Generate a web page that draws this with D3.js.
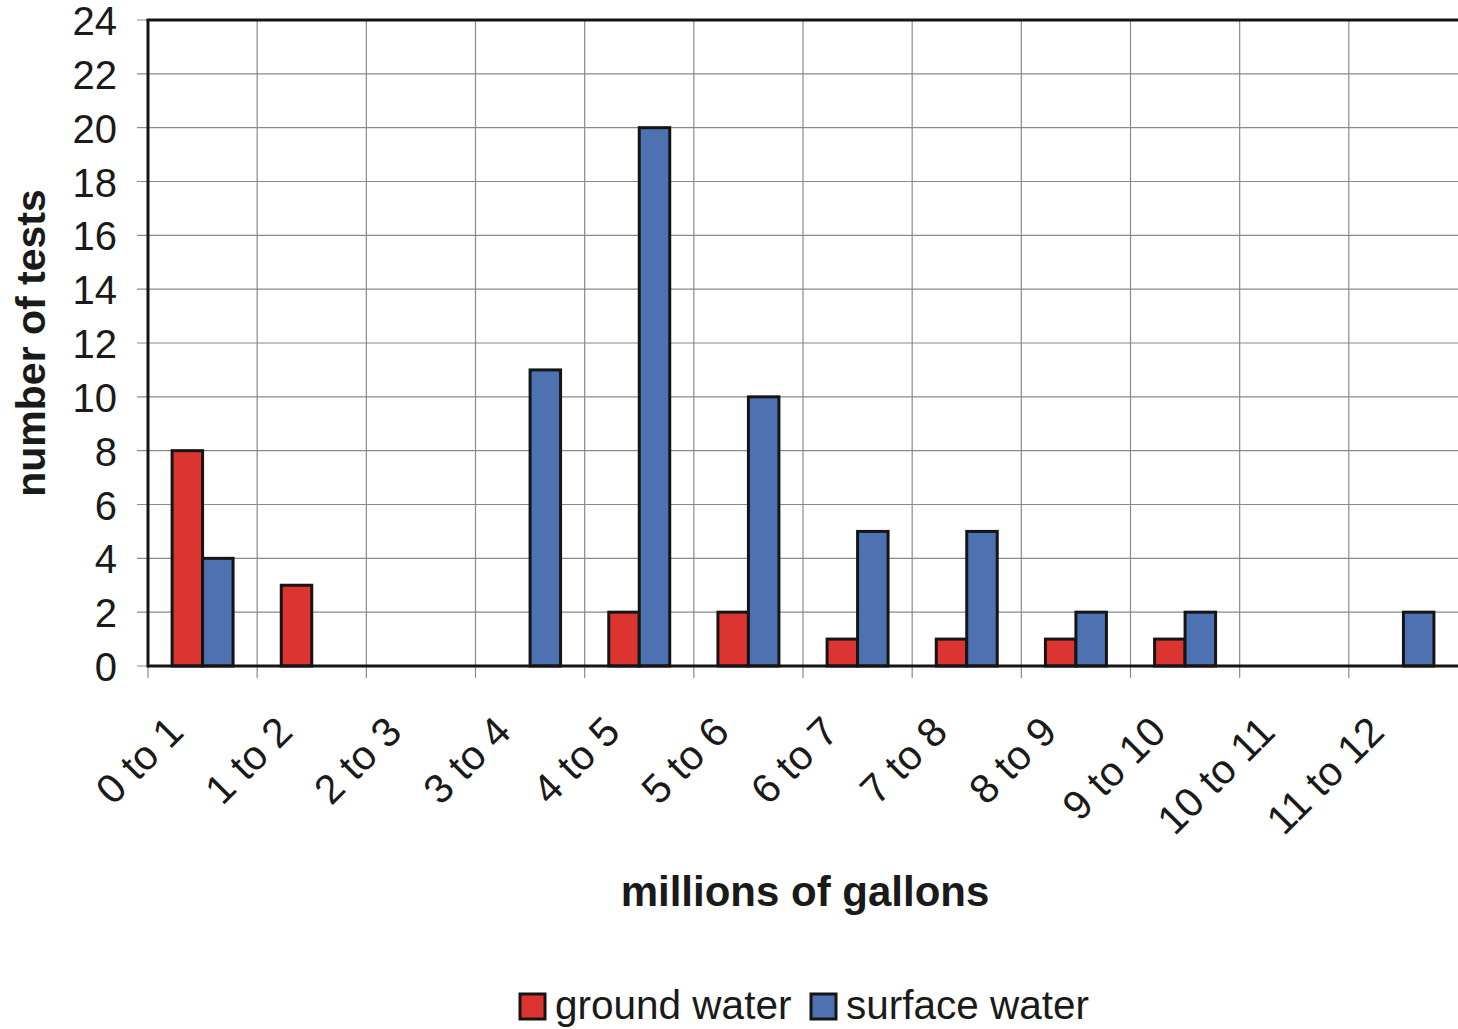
<!DOCTYPE html>
<html>
<head>
<meta charset="utf-8">
<script src="https://cdn.jsdelivr.net/npm/d3@7"></script>
<style>
  body { margin: 0; background: #fff; }
  text { font-family: "Liberation Sans", Arial, sans-serif; fill: #1a1a1a; }
</style>
</head>
<body>
<div id="chart"></div>
<script>
// values
const categories = ["0 to 1", "1 to 2", "2 to 3", "3 to 4", "4 to 5", "5 to 6",
  "6 to 7", "7 to 8", "8 to 9", "9 to 10", "10 to 11", "11 to 12"];
const groundWater = [8, 3, 0, 0, 2, 2, 1, 1, 1, 1, 0, 0];
const surfaceWater = [4, 0, 0, 11, 20, 10, 5, 5, 2, 2, 0, 2];
const seriesNames = ["ground water", "surface water"];
const yTicks = [0, 2, 4, 6, 8, 10, 12, 14, 16, 18, 20, 22, 24];

const W = 1458, H = 1029;
const margin = { left: 148, right: 0, top: 20, bottom: 363 };
const colors = ["#dc3531", "#4e72b1"];

const svg = d3.select("#chart").append("svg")
    .attr("width", W).attr("height", H);

const x = d3.scaleBand().domain(categories)
    .range([margin.left, W - margin.right]);
const inner = d3.scaleBand().domain(seriesNames)
    .range([0, x.bandwidth()]).paddingInner(0).paddingOuter(0.79);
const y = d3.scaleLinear().domain([0, 24]).range([H - margin.bottom, margin.top]);

const g = svg.append("g");

// horizontal grid
g.selectAll(".hgrid").data(yTicks).enter().append("line")
    .attr("x1", margin.left - 11).attr("x2", W)
    .attr("y1", d => y(d)).attr("y2", d => y(d))
    .attr("stroke", "#8a8a8a").attr("stroke-width", 1.2);

// vertical grid at category boundaries
let bounds = categories.map(c => x(c));
g.selectAll(".vgrid").data(bounds).enter().append("line")
    .attr("x1", d => d).attr("x2", d => d)
    .attr("y1", margin.top).attr("y2", y(0) + 12)
    .attr("stroke", "#8a8a8a").attr("stroke-width", 1.2);

// bars
const rows = [];
categories.forEach((c, i) => {
    rows.push({ cat: c, s: seriesNames[0], v: groundWater[i], col: colors[0] });
    rows.push({ cat: c, s: seriesNames[1], v: surfaceWater[i], col: colors[1] });
});
g.selectAll(".bar").data(rows.filter(d => d.v > 0)).enter().append("rect")
    .attr("x", d => x(d.cat) + inner(d.s))
    .attr("width", inner.bandwidth())
    .attr("y", d => y(d.v))
    .attr("height", d => y(0) - y(d.v))
    .attr("fill", d => d.col)
    .attr("stroke", "#151515").attr("stroke-width", 3);

// frame: left axis, bottom axis, top line
g.append("line").attr("x1", margin.left).attr("x2", margin.left)
    .attr("y1", margin.top).attr("y2", y(0) + 1.5)
    .attr("stroke", "#151515").attr("stroke-width", 3);
g.append("line").attr("x1", margin.left).attr("x2", W)
    .attr("y1", y(0)).attr("y2", y(0))
    .attr("stroke", "#151515").attr("stroke-width", 3);
g.append("line").attr("x1", margin.left - 1.5).attr("x2", W)
    .attr("y1", margin.top).attr("y2", margin.top)
    .attr("stroke", "#151515").attr("stroke-width", 3);

// y tick labels
g.selectAll(".ylab").data(yTicks).enter().append("text")
    .attr("x", 117).attr("y", d => y(d) + 15)
    .attr("text-anchor", "end")
    .attr("font-size", 40)
    .text(d => d);

// x tick labels rotated
g.selectAll(".xlab").data(categories).enter().append("text")
    .attr("text-anchor", "end")
    .attr("font-size", 41)
    .attr("transform", d => "translate(" + (x(d) + x.bandwidth() / 2 - 17) + "," + (y(0) + 68) + ") rotate(-45)")
    .text(d => d);

// axis titles
svg.append("text")
    .attr("transform", "translate(45," + 343 + ") rotate(-90)")
    .attr("text-anchor", "middle")
    .attr("font-size", 41).attr("font-weight", "bold")
    .text("number of tests");
svg.append("text")
    .attr("x", 805).attr("y", 906)
    .attr("text-anchor", "middle")
    .attr("font-size", 42).attr("font-weight", "bold")
    .text("millions of gallons");

// legend
const legendX = [520, 811];
const legend = svg.selectAll(".leg").data(seriesNames).enter().append("g")
    .attr("transform", (d, i) => "translate(" + legendX[i] + ",994)");
legend.append("rect")
    .attr("width", 25).attr("height", 25)
    .attr("fill", (d, i) => colors[i])
    .attr("stroke", "#151515").attr("stroke-width", 3);
legend.append("text")
    .attr("x", 35).attr("y", 25)
    .attr("font-size", 40.5)
    .text(d => d);
</script>
</body>
</html>
